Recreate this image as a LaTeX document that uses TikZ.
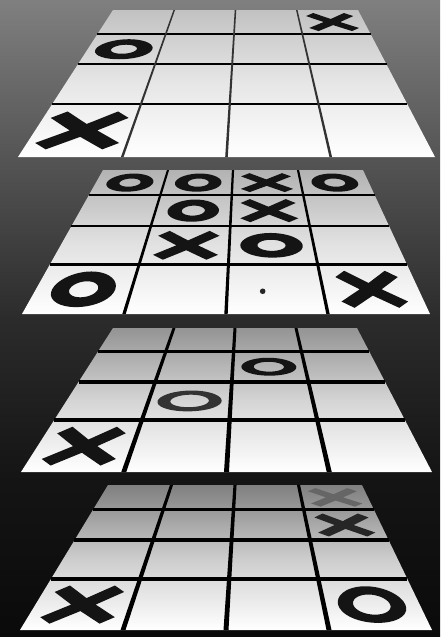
\documentclass[tikz,border=0pt]{standalone}
\usetikzlibrary{calc}
\definecolor{bgA}{gray}{0.04}
\definecolor{bgB}{gray}{0.08}
\definecolor{bgC}{gray}{0.17}
\definecolor{bgD}{gray}{0.33}
\definecolor{bgE}{gray}{0.5}
\pgfdeclareverticalshading{bgshade}{100bp}{color(0bp)=(bgA); color(25bp)=(bgA); color(37.5bp)=(bgB); color(50bp)=(bgC); color(62.5bp)=(bgD); color(75bp)=(bgE); color(100bp)=(bgE)}
\tikzset{gridrow/.style={draw=black}, gridcol/.style={fill=black}}

% board: #1 name, #2 y top, #3 y bottom, #4 x top-left, #5 x top-right, #6 x bottom-left, #7 x bottom-right, #8 back grey (percent black), #9 front line width
\newcommand\board[9]{%
  \pgfmathsetmacro\zmid{#8*0.4}%
  \colorlet{ztop}{black!#8}\colorlet{zmid}{black!\zmid}%
  \shade[top color=ztop,bottom color=white,middle color=zmid] (#6,-#3) -- (#7,-#3) -- (#5,-#2) -- (#4,-#2) -- cycle;
  \pgfmathsetmacro\zWb{#7-#6}%
  \pgfmathsetmacro\zWt{#5-#4}%
  \foreach \j in {0,...,4}{%
    \pgfmathsetmacro\zv{\j/4}%
    \pgfmathsetmacro\zw{\zWt/((1-\zv)*\zWt/\zWb+\zv)}%
    \pgfmathsetmacro\zT{(\zWb-\zw)/(\zWb-\zWt)}%
    \pgfmathsetmacro\zY{#3-(#3-#2)*\zT}%
    \pgfmathsetmacro\zxl{#6+\zT*(#4-#6)}%
    \pgfmathsetmacro\zxr{#7+\zT*(#5-#7)}%
    \pgfmathsetmacro\zlw{#9*\zw/\zWb}%
    \foreach \i in {0,...,4}{%
      \coordinate (#1-\i-\j) at ({\zxl+(\zxr-\zxl)*\i/4},{-\zY});%
    }%
    \ifnum\j>0 \ifnum\j<4
      \draw[gridrow, line width=\zlw pt] (#1-0-\j) -- (#1-4-\j);%
    \fi\fi
  }%
  \pgfmathsetmacro\zhw{#9/2}%
  \pgfmathsetmacro\zhwt{#9/2*\zWt/\zWb}%
  \foreach \i in {1,2,3}{%
    \fill[gridcol] ($(#1-\i-0)+(-\zhw,0)$) -- ($(#1-\i-0)+(\zhw,0)$) -- ($(#1-\i-4)+(\zhwt,0)$) -- ($(#1-\i-4)+(-\zhwt,0)$) -- cycle;
  }%
}

\newcommand\cellinfo[3]{%
  \pgfmathtruncatemacro\ci{#2+1}\pgfmathtruncatemacro\cj{#3+1}%
  \path (#1-#2-#3); \pgfgetlastxy{\cAx}{\cAy}%
  \path (#1-\ci-#3); \pgfgetlastxy{\cBx}{\cBy}%
  \path (#1-\ci-\cj); \pgfgetlastxy{\cCx}{\cCy}%
  \path (#1-#2-\cj); \pgfgetlastxy{\cDx}{\cDy}%
}
\pgfmathdeclarefunction{bilx}{2}{\begingroup\pgfmathparse{(1-(#2))*((1-(#1))*\cAx+(#1)*\cBx)+(#2)*((1-(#1))*\cDx+(#1)*\cCx)}\pgfmathsmuggle\pgfmathresult\endgroup}
\pgfmathdeclarefunction{bily}{2}{\begingroup\pgfmathparse{(1-(#2))*((1-(#1))*\cAy+(#1)*\cBy)+(#2)*((1-(#1))*\cDy+(#1)*\cCy)}\pgfmathsmuggle\pgfmathresult\endgroup}

% X mark: board, i, j, colour, u-scale, v-scale
\newcommand\markX[6]{%
  \cellinfo{#1}{#2}{#3}%
  \fill[#4] ({bilx(0.5+#5*(-0.2475),0.5+#6*0.3748)},{bily(0.5+#5*(-0.2475),0.5+#6*0.3748)})
   \foreach \px/\py in {.09/.44,.09/.09,.44/.09,.44/-.09,.09/-.09,.09/-.44,-.09/-.44,-.09/-.09,-.44/-.09,-.44/.09,-.09/.09,-.09/.44}{
     -- ({bilx(0.5+#5*((\px)-(\py))*0.7071,0.5+#6*((\px)+(\py))*0.7071)},{bily(0.5+#5*((\px)-(\py))*0.7071,0.5+#6*((\px)+(\py))*0.7071)})
   } -- cycle;
}
% O mark: board, i, j, colour, u radius, v radius, inner factor
\newcommand\markO[7]{%
  \cellinfo{#1}{#2}{#3}%
  \fill[#4,even odd rule] plot[smooth cycle,variable=\myang,domain=0:350,samples=36] ({bilx(0.5+#5*cos(\myang),0.5+#6*sin(\myang))},{bily(0.5+#5*cos(\myang),0.5+#6*sin(\myang))})
   plot[smooth cycle,variable=\myang,domain=0:350,samples=36] ({bilx(0.5+#7*#5*cos(\myang),0.5+#7*#6*sin(\myang))},{bily(0.5+#7*#5*cos(\myang),0.5+#7*#6*sin(\myang))});
}

\begin{document}
\begin{tikzpicture}[x=1pt,y=1pt]
\useasboundingbox (0,0) rectangle (440,-637);
\shade[shading=bgshade] (0,0) rectangle (440,-637);

% board 1
\tikzset{gridcol/.style={fill=black!80}}
\board{b1}{10}{157}{113}{358}{18}{435}{24}{2.6}
\tikzset{gridcol/.style={fill=black}}
\markX{b1}{3}{3}{black!92}{1}{1}
\markO{b1}{0}{2}{black!92}{.39}{.33}{.45}
\markX{b1}{0}{0}{black!92}{1.12}{.95}

% board 2
\board{b2}{170}{314}{103}{363}{22}{430}{30}{3.4}
\markO{b2}{0}{3}{black!92}{.34}{.36}{.45}
\markO{b2}{1}{3}{black!92}{.34}{.36}{.45}
\markX{b2}{2}{3}{black!92}{1}{1}
\markO{b2}{3}{3}{black!92}{.34}{.36}{.45}
\markO{b2}{1}{2}{black!92}{.34}{.36}{.45}
\markX{b2}{2}{2}{black!92}{1}{1}
\markX{b2}{1}{1}{black!92}{1}{1}
\markO{b2}{2}{1}{black!92}{.37}{.32}{.45}
\markO{b2}{0}{0}{black!92}{.33}{.36}{.45}
\markX{b2}{3}{0}{black!92}{.9}{1}
\cellinfo{b2}{2}{0}
\fill[black!85] ({bilx(.37,.46)},{bily(.37,.46)}) circle (2.8);

% board 3
\board{b3}{328}{472}{113}{357}{21}{432}{42}{5}
\markO{b3}{2}{2}{black!92}{.38}{.3}{.55}
\markO{b3}{1}{1}{black!80}{.39}{.27}{.6}
\markX{b3}{0}{0}{black!92}{1}{1}

% board 4
\board{b4}{485}{630}{108}{362}{20}{432}{50}{5}
\markX{b4}{3}{3}{black!60}{1}{1}
\markX{b4}{3}{2}{black!85}{1}{1}
\markX{b4}{0}{0}{black!92}{1}{1}
\markO{b4}{3}{0}{black!92}{.35}{.36}{.55}
\end{tikzpicture}
\end{document}
